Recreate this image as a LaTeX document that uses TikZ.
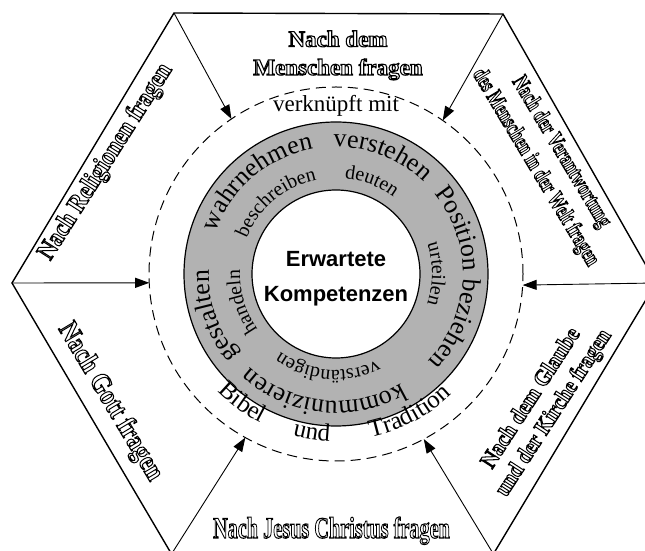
\documentclass[tikz,border=0pt]{standalone}
\usepackage{fontspec}
\setmainfont{Liberation Serif}
\setsansfont{Liberation Sans}
\usetikzlibrary{arrows.meta,decorations.text,calc}
\definecolor{ringgray}{RGB}{178,178,178}
\newcommand\olab[2]{\scalebox{#1}[1]{\special{pdf:literal direct 1 Tr 1.1 w}#2\special{pdf:literal direct 0 Tr}}}
\newcommand\ringouter{\fontsize{26}{26}\selectfont}
\newcommand\ringinner{\fontsize{20}{20}\selectfont}
\newcommand\ringbib{\fontsize{25}{25}\selectfont}
\begin{document}
\begin{tikzpicture}[x=1pt,y=1pt,
  hexline/.style={line width=1.4pt, line join=miter},
  arr/.style={line width=0.9pt, -{Triangle[length=14pt,width=10pt]}},
  dashcirc/.style={line width=1pt, dash pattern=on 10pt off 6pt},
  ringstyle/.style={draw=black, line width=1.2pt, fill=ringgray, even odd rule},
  lab/.style={inner sep=0pt, align=center},
]
\useasboundingbox (0,0) rectangle (645,551);
\coordinate (C) at (336,277);
% hexagon
\coordinate (TL) at (174,538);
\coordinate (TR) at (503,537);
\coordinate (R) at (656,268);
\coordinate (BR) at (493.4,-3);
\coordinate (BL) at (171.5,-3);
\coordinate (L) at (12,268);
\draw[hexline] (TL) -- (TR) -- (R) -- (BR) -- (BL) -- (L) -- cycle;
% ring and circles
\draw[ringstyle] (C) circle[radius=152pt] (C) circle[radius=84pt];
\draw[dashcirc] (C) circle[radius=187pt];
% arrow tips on dashed circle
\coordinate (TLt) at ($(C)+(124:187)$);
\coordinate (TRt) at ($(C)+(55.2:187)$);
\coordinate (Lt) at ($(C)+(182.7:187)$);
\coordinate (Rt) at ($(C)+(-3.4:187)$);
\coordinate (BLt) at ($(C)+(241:187)$);
\coordinate (BRt) at ($(C)+(-62:187)$);
\draw[arr] (TL) -- (TLt);
\draw[arr] (TR) -- (TRt);
\draw[arr] (L) -- (Lt);
\draw[arr] (R) -- (Rt);
\draw[arr] (BL) -- (BLt);
\draw[arr] (BR) -- (BRt);
% hexagon labels
\node[lab, font=\bfseries\fontsize{23}{23}\selectfont, anchor=base] (m1) at (338,504.3) {\olab{1}{Nach dem}};
\node[lab, font=\bfseries\fontsize{23}{23}\selectfont, anchor=base] (m2) at (338,476) {\olab{1}{Menschen fragen}};
\node[lab, font=\bfseries\fontsize{26}{26}\selectfont, rotate=57.5] (rel) at (106,389) {\olab{0.87}{Nach Religionen fragen}};
\node[lab, font=\bfseries\fontsize{23}{30}\selectfont, rotate=-59] (ver) at (548,391) {\olab{0.7}{Nach der Verantwortung}\\\olab{0.7}{des Menschen in der Welt fragen}};
\node[lab, font=\bfseries\fontsize{28}{28}\selectfont, rotate=-59] (gott) at (110,149) {\olab{0.86}{Nach Gott fragen}};
\node[lab, font=\bfseries\fontsize{23}{27}\selectfont, rotate=57] (gla) at (543,145) {\olab{0.92}{Nach dem Glaube}\\\olab{0.88}{und der Kirche fragen}};
\node[lab, font=\bfseries\fontsize{30}{30}\selectfont, anchor=base] (jes) at (331.5,13) {\olab{0.675}{Nach Jesus Christus fragen}};
% inner texts
\node[lab, font=\fontsize{23}{23}\selectfont, anchor=base] (vk) at (336,439.3) {verknüpft mit};
\node[lab, font=\sffamily\bfseries\fontsize{22}{22}\selectfont, anchor=base] (erw) at (336,284.3) {Erwartete};
\node[lab, font=\sffamily\bfseries\fontsize{22}{22}\selectfont, anchor=base] (kom) at (336,249.3) {Kompetenzen};
% ring words, outer
\path[decorate, decoration={text along path, text={|\ringouter|wahrnehmen}, text align=center}] ($(C)+(210.5:127)$) arc[start angle=210.5, end angle=50.5, radius=127pt];
\path[decorate, decoration={text along path, text={|\ringouter|verstehen}, text align=center}] ($(C)+(148.75:127)$) arc[start angle=148.75, end angle=-11.25, radius=127pt];
\path[decorate, decoration={text along path, text={|\ringouter|Position beziehen}, text align=center}] ($(C)+(78:127)$) arc[start angle=78, end angle=-82, radius=127pt];
\path[decorate, decoration={text along path, text={|\ringouter|kommunizieren}, text align=center}] ($(C)+(-16:127)$) arc[start angle=-16, end angle=-176, radius=127pt];
\path[decorate, decoration={text along path, text={|\ringouter|gestalten}, text align=center}] ($(C)+(279:127)$) arc[start angle=279, end angle=119, radius=127pt];
% ring words, inner
\path[decorate, decoration={text along path, text={|\ringinner|beschreiben}, text align=center}] ($(C)+(210:96)$) arc[start angle=210, end angle=50, radius=96pt];
\path[decorate, decoration={text along path, text={|\ringinner|deuten}, text align=center}] ($(C)+(149:96)$) arc[start angle=149, end angle=-11, radius=96pt];
\path[decorate, decoration={text along path, text={|\ringinner|urteilen}, text align=center}] ($(C)+(80:96)$) arc[start angle=80, end angle=-80, radius=96pt];
\path[decorate, decoration={text along path, text={|\ringinner|verständigen}, text align=center}] ($(C)+(-15:96)$) arc[start angle=-15, end angle=-175, radius=96pt];
\path[decorate, decoration={text along path, text={|\ringinner|handeln}, text align=center}] ($(C)+(276.5:96)$) arc[start angle=276.5, end angle=116.5, radius=96pt];
% Bibel und Tradition
\path[decorate, decoration={text along path, text={|\ringbib|Bibel}, text align=center}] ($(C)+(-166:167)$) arc[start angle=-166, end angle=-86, radius=167pt];
\path[decorate, decoration={text along path, text={|\ringbib|und}, text align=center}] ($(C)+(-138.6:167)$) arc[start angle=-138.6, end angle=-58.6, radius=167pt];
\path[decorate, decoration={text along path, text={|\ringbib|Tradition}, text align=center}] ($(C)+(-102:167)$) arc[start angle=-102, end angle=-22, radius=167pt];
\end{tikzpicture}
\end{document}
